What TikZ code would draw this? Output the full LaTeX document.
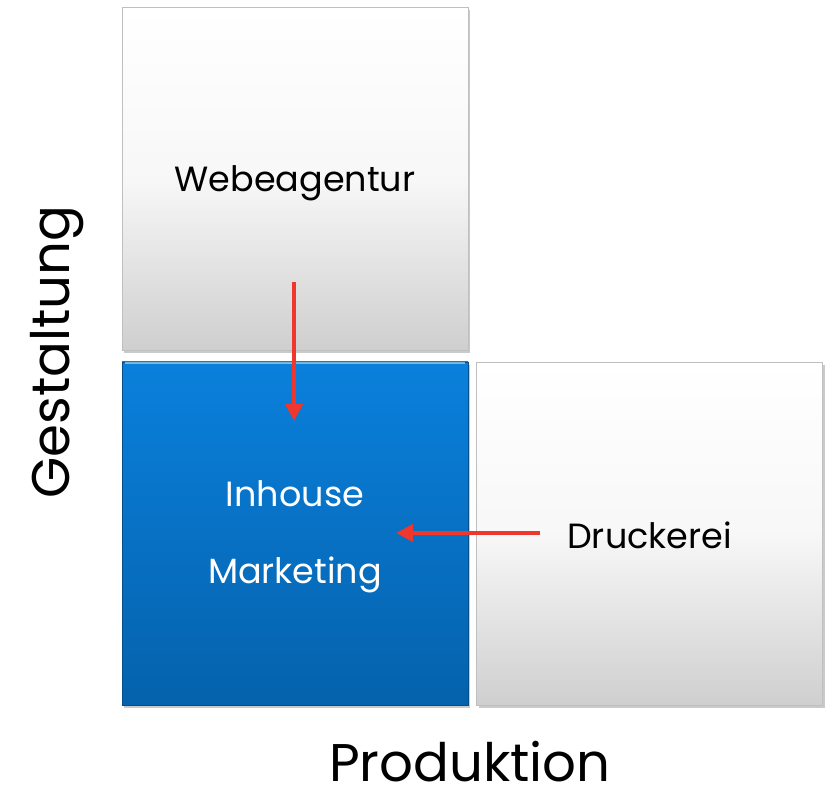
\documentclass[tikz,border=0pt]{standalone}
\usepackage{fontspec}
\setmainfont{Poppins}
\usetikzlibrary{arrows.meta,shadows}
\definecolor{arrowred}{HTML}{F0372D}
\definecolor{bluetop}{HTML}{0A80DC}
\definecolor{bluebot}{HTML}{0562AC}
\definecolor{graybot}{HTML}{CFCFCF}
\begin{document}
\begin{tikzpicture}[x=1pt,y=-1pt,
  box/.style={minimum width=346pt,minimum height=343pt,inner sep=0pt,
    draw=black!25,line width=0.6pt,
    drop shadow={shadow xshift=2pt,shadow yshift=-3pt,opacity=0.35,fill=black!60}},
  graybox/.style={box,top color=white,bottom color=graybot,middle color=white!97!black},
  bluebox/.style={box,draw=bluebot!80!black,top color=bluetop,bottom color=bluebot},
  boxtext/.style={font=\fontsize{35}{77}\selectfont,align=center},
  flow/.style={draw=arrowred,line width=3.8pt,-{Triangle[length=17pt,width=17pt]}},
  axis/.style={font=\fontsize{53}{60}\selectfont,text=black,inner sep=0pt,text depth=0pt}]
\useasboundingbox (0,0) rectangle (825,799);
\node[graybox] (web) at (295,178.5) {};
\node[bluebox] (inh) at (295,533.5) {};
\node[graybox] (dru) at (649.5,533.5) {};
\node[boxtext,text=black] (webt) at ([yshift=-5pt]web.center) {Webeagentur};
\node[boxtext,text=white] (inht) at ([yshift=-3pt]inh.center) {Inhouse\\Marketing};
\node[boxtext,text=black] (drut) at ([yshift=-2pt]dru.center) {Druckerei};
\draw[white!60!cyan,line width=1.5pt,opacity=0.7] (inh.north west) ++(3,1.5) -- ([xshift=-3pt,yshift=-1.5pt]inh.north east);
\coordinate (v1) at (294,282);
\coordinate (v2) at (294,421);
\coordinate (h1) at (540,533);
\coordinate (h2) at (396,533);
\draw[flow] (v1) -- (v2);
\draw[flow] (h1) -- (h2);
\node[axis,rotate=90] (gest) at (50,352) {Gestaltung};
\node[axis,anchor=base] (prod) at (470,781) {Produktion};
\end{tikzpicture}
\end{document}
